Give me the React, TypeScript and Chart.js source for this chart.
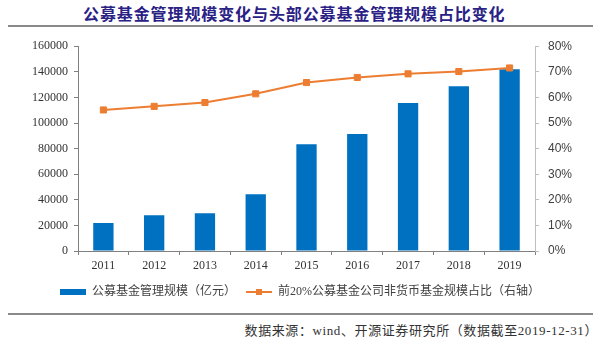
import React, { useEffect, useRef } from "react";
import { Chart, registerables } from "chart.js";

Chart.register(...registerables);

const title = "公募基金管理规模变化与头部公募基金管理规模占比变化";
const source = "数据来源：wind、开源证券研究所（数据截至2019-12-31）";
const years = ["2011", "2012", "2013", "2014", "2015", "2016", "2017", "2018", "2019"];
const aumValues = [21800, 27900, 29500, 44300, 83400, 91400, 115700, 128700, 142000];
const top20Share = [55.1, 56.5, 58.0, 61.4, 65.8, 67.8, 69.2, 70.1, 71.5];
const barLabel = "公募基金管理规模（亿元）";
const lineLabel = "前20%公募基金公司非货币基金规模占比（右轴）";

const BLUE = "#0070C0";
const ORANGE = "#ED7D31";

function makeBarIcon() {
  const c = document.createElement("canvas");
  c.width = 26;
  c.height = 6;
  const ctx = c.getContext("2d")!;
  ctx.fillStyle = BLUE;
  ctx.fillRect(0, 0, 26, 6);
  return c;
}

function makeLineIcon() {
  const c = document.createElement("canvas");
  c.width = 26;
  c.height = 8;
  const ctx = c.getContext("2d")!;
  ctx.strokeStyle = ORANGE;
  ctx.lineWidth = 2;
  ctx.beginPath();
  ctx.moveTo(0, 4);
  ctx.lineTo(26, 4);
  ctx.stroke();
  ctx.fillStyle = ORANGE;
  ctx.fillRect(10, 1, 6, 6);
  return c;
}

export default function App() {
  const ref = useRef<HTMLCanvasElement>(null);

  useEffect(() => {
    if (!ref.current) return;
    const barIcon = makeBarIcon();
    const lineIcon = makeLineIcon();
    const chart = new Chart(ref.current, {
      type: "bar",
      data: {
        labels: years,
        datasets: [
          {
            type: "bar",
            label: barLabel,
            data: aumValues,
            backgroundColor: BLUE,
            borderWidth: 0,
            yAxisID: "y",
            categoryPercentage: 1,
            barPercentage: 0.4,
            order: 1,
          } as any,
          {
            type: "line",
            label: lineLabel,
            data: top20Share,
            borderColor: ORANGE,
            backgroundColor: ORANGE,
            borderWidth: 2,
            pointStyle: "rect",
            pointRadius: 4.3,
            pointBorderWidth: 1,
            pointBackgroundColor: ORANGE,
            pointBorderColor: ORANGE,
            tension: 0,
            yAxisID: "y1",
            order: 0,
          } as any,
        ],
      },
      options: {
        animation: false,
        responsive: false,
        maintainAspectRatio: false,
        layout: { padding: { top: 16, bottom: 2, left: 0, right: 0 } },
        plugins: {
          tooltip: { enabled: false },
          legend: {
            position: "bottom",
            align: "center",
            labels: {
              usePointStyle: true,
              pointStyleWidth: 26,
              padding: 10,
              color: "#404040",
              font: { family: "'Liberation Serif', 'Noto Sans CJK SC'", size: 12 },
              sort: (a: any, b: any) => a.datasetIndex - b.datasetIndex,
              generateLabels: (ch: any) => {
                const items = (Chart.defaults.plugins.legend.labels as any).generateLabels(ch);
                return items.map((it: any) => ({
                  ...it,
                  pointStyle: it.datasetIndex === 0 ? barIcon : lineIcon,
                }));
              },
            },
          },
        },
        scales: {
          x: {
            grid: {
              display: true,
              drawOnChartArea: false,
              drawTicks: true,
              tickLength: 4,
              color: "#808080",
              offset: true,
            },
            border: { display: true, color: "#808080", width: 1 },
            ticks: {
              color: "#333333",
              padding: 4,
              font: { family: "'Liberation Serif'", size: 12 },
              maxRotation: 0,
            },
            afterFit: (s: any) => {
              s.height = 25;
            },
          },
          y: {
            position: "left",
            min: 0,
            max: 160000,
            ticks: {
              stepSize: 20000,
              color: "#333333",
              padding: 6,
              font: { family: "'Liberation Serif'", size: 12 },
              callback: (v: any) => String(v),
            },
            grid: {
              display: true,
              drawOnChartArea: false,
              tickLength: 4,
              color: "#808080",
            },
            border: { display: true, color: "#808080", width: 1 },
            afterFit: (s: any) => {
              s.width = 78;
            },
          },
          y1: {
            position: "right",
            min: 0,
            max: 80,
            ticks: {
              stepSize: 10,
              color: "#404040",
              padding: 9,
              font: { family: "'Liberation Sans'", size: 12 },
              callback: (v: any) => v + "%",
            },
            grid: {
              display: true,
              drawOnChartArea: false,
              tickLength: 4,
              color: "#BFBFBF",
            },
            border: { display: true, color: "#BFBFBF", width: 1 },
            afterFit: (s: any) => {
              s.width = 65;
            },
          },
        },
      },
    });
    return () => chart.destroy();
  }, []);

  return (
    <div
      style={{
        position: "absolute",
        left: 0,
        top: 0,
        width: 600,
        height: 343,
        background: "#ffffff",
        overflow: "hidden",
      }}
    >
      <div
        style={{
          position: "absolute",
          left: 83,
          top: 3,
          whiteSpace: "nowrap",
          fontFamily: "'Noto Sans CJK SC'",
          fontWeight: 700,
          fontSize: 16,
          letterSpacing: 0.9,
          lineHeight: "20px",
          color: "#2A2185",
        }}
      >
        {title}
      </div>
      <div
        style={{
          position: "absolute",
          left: 8,
          top: 25,
          width: 585,
          height: 2,
          background: "#8a8a8a",
        }}
      />
      <canvas
        ref={ref}
        width={600}
        height={280}
        style={{ position: "absolute", left: 0, top: 30, width: 600, height: 280 }}
      />
      <div
        style={{
          position: "absolute",
          left: 8,
          top: 313,
          width: 585,
          height: 2,
          background: "#8a8a8a",
        }}
      />
      <div
        style={{
          position: "absolute",
          right: 2,
          top: 322,
          whiteSpace: "nowrap",
          fontFamily: "'Liberation Serif', 'Noto Sans CJK SC'",
          fontSize: 13,
          letterSpacing: 0.6,
          lineHeight: "18px",
          color: "#333333",
        }}
      >
        {source}
      </div>
    </div>
  );
}
